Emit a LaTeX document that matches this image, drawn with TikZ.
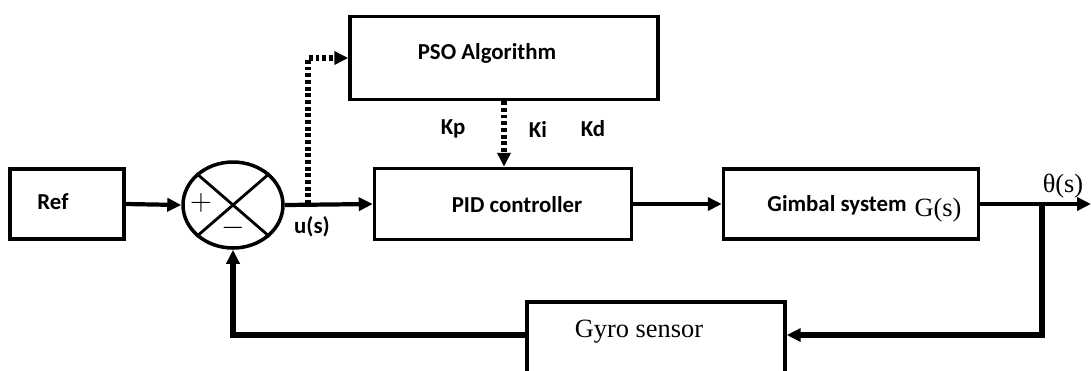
\documentclass[tikz,border=0pt]{standalone}
\usepackage{fontspec}
\setmainfont{Liberation Serif}
\newfontfamily\carl{Carlito}
\usetikzlibrary{arrows.meta,shapes.geometric}

\begin{document}
\begin{tikzpicture}[x=0.02cm,y=-0.02cm,
    blk/.style={draw,line width=2pt,inner sep=0pt},
    lbl/.style={font=\carl\bfseries\fontsize{13}{15}\selectfont,inner sep=1pt},
    ser/.style={font=\fontsize{15}{17}\selectfont,inner sep=1pt},
    sgn/.style={font=\fontsize{19}{19}\selectfont,inner sep=0pt},
    sig/.style={line width=2.4pt,-{Triangle[length=0.28cm,width=0.26cm]}},
    dot/.style={line width=3pt,dash pattern=on 2.2pt off 1.6pt,-{Triangle[length=0.28cm,width=0.26cm]}}]
  \useasboundingbox (0,0) rectangle (1091,370);
  \clip (0,0) rectangle (1091,370);
  % blocks
  \node[blk,minimum width=2.28cm,minimum height=1.4cm] (ref) at (67,204) {};
  \node[lbl] (reftxt) at (53,202) {Ref};
  \node[blk,ellipse,minimum width=2cm,minimum height=1.72cm] (sum) at (233,205) {};
  \draw[line width=1.6pt] (sum.north west) -- (sum.south east) (sum.north east) -- (sum.south west);
  \node[sgn] (plus) at (201,203) {$+$};
  \node[sgn] (minus) at (233,228) {$-$};
  \node[blk,minimum width=6.16cm,minimum height=1.66cm] (pso) at (504,58) {};
  \node[lbl] (psotxt) at (487,53) {PSO Algorithm};
  \node[blk,minimum width=5.14cm,minimum height=1.42cm] (pid) at (503,204) {};
  \node[lbl] (pidtxt) at (517,205) {PID controller};
  \node[blk,minimum width=5.1cm,minimum height=1.4cm] (gim) at (851,204) {};
  \node[lbl] (gimtxt) at (837,205) {Gimbal system};
  \node[ser] (gs) at (938,210) {G(s)};
  \node[blk,minimum width=5.16cm,minimum height=1.64cm] (gyro) at (656,343) {};
  \node[ser] (gyrotxt) at (639,332) {Gyro sensor};
  % gains and signals
  \foreach \n/\x in {Kp/453,Ki/538,Kd/593} {\node[lbl] (\n) at (\x,129) {\n};}
  \node[lbl] (us) at (312,227) {u(s)};
  \node[ser] (theta) at (1063,186) {θ(s)};
  % connectors
  \coordinate (tap) at (308,204);
  \coordinate (br) at (1042,204);
  \coordinate (out) at (1091,204);
  \draw[sig] (ref.east) -- (sum.west);
  \draw[sig] (sum.east) -- (pid.west);
  \draw[dot] (tap) |- (pso.west);
  \draw[dot] (pso.south) -- (pso.south |- pid.north);
  \draw[sig] (pid.east) -- (gim.west);
  \draw[sig] (gim.east) -- (out);
  \draw[sig,line width=3pt] (br) |- ([yshift=0.16cm]gyro.east);
  \draw[sig,line width=3pt] ([yshift=0.16cm]gyro.west) -| (sum.south);
\end{tikzpicture}
\end{document}
